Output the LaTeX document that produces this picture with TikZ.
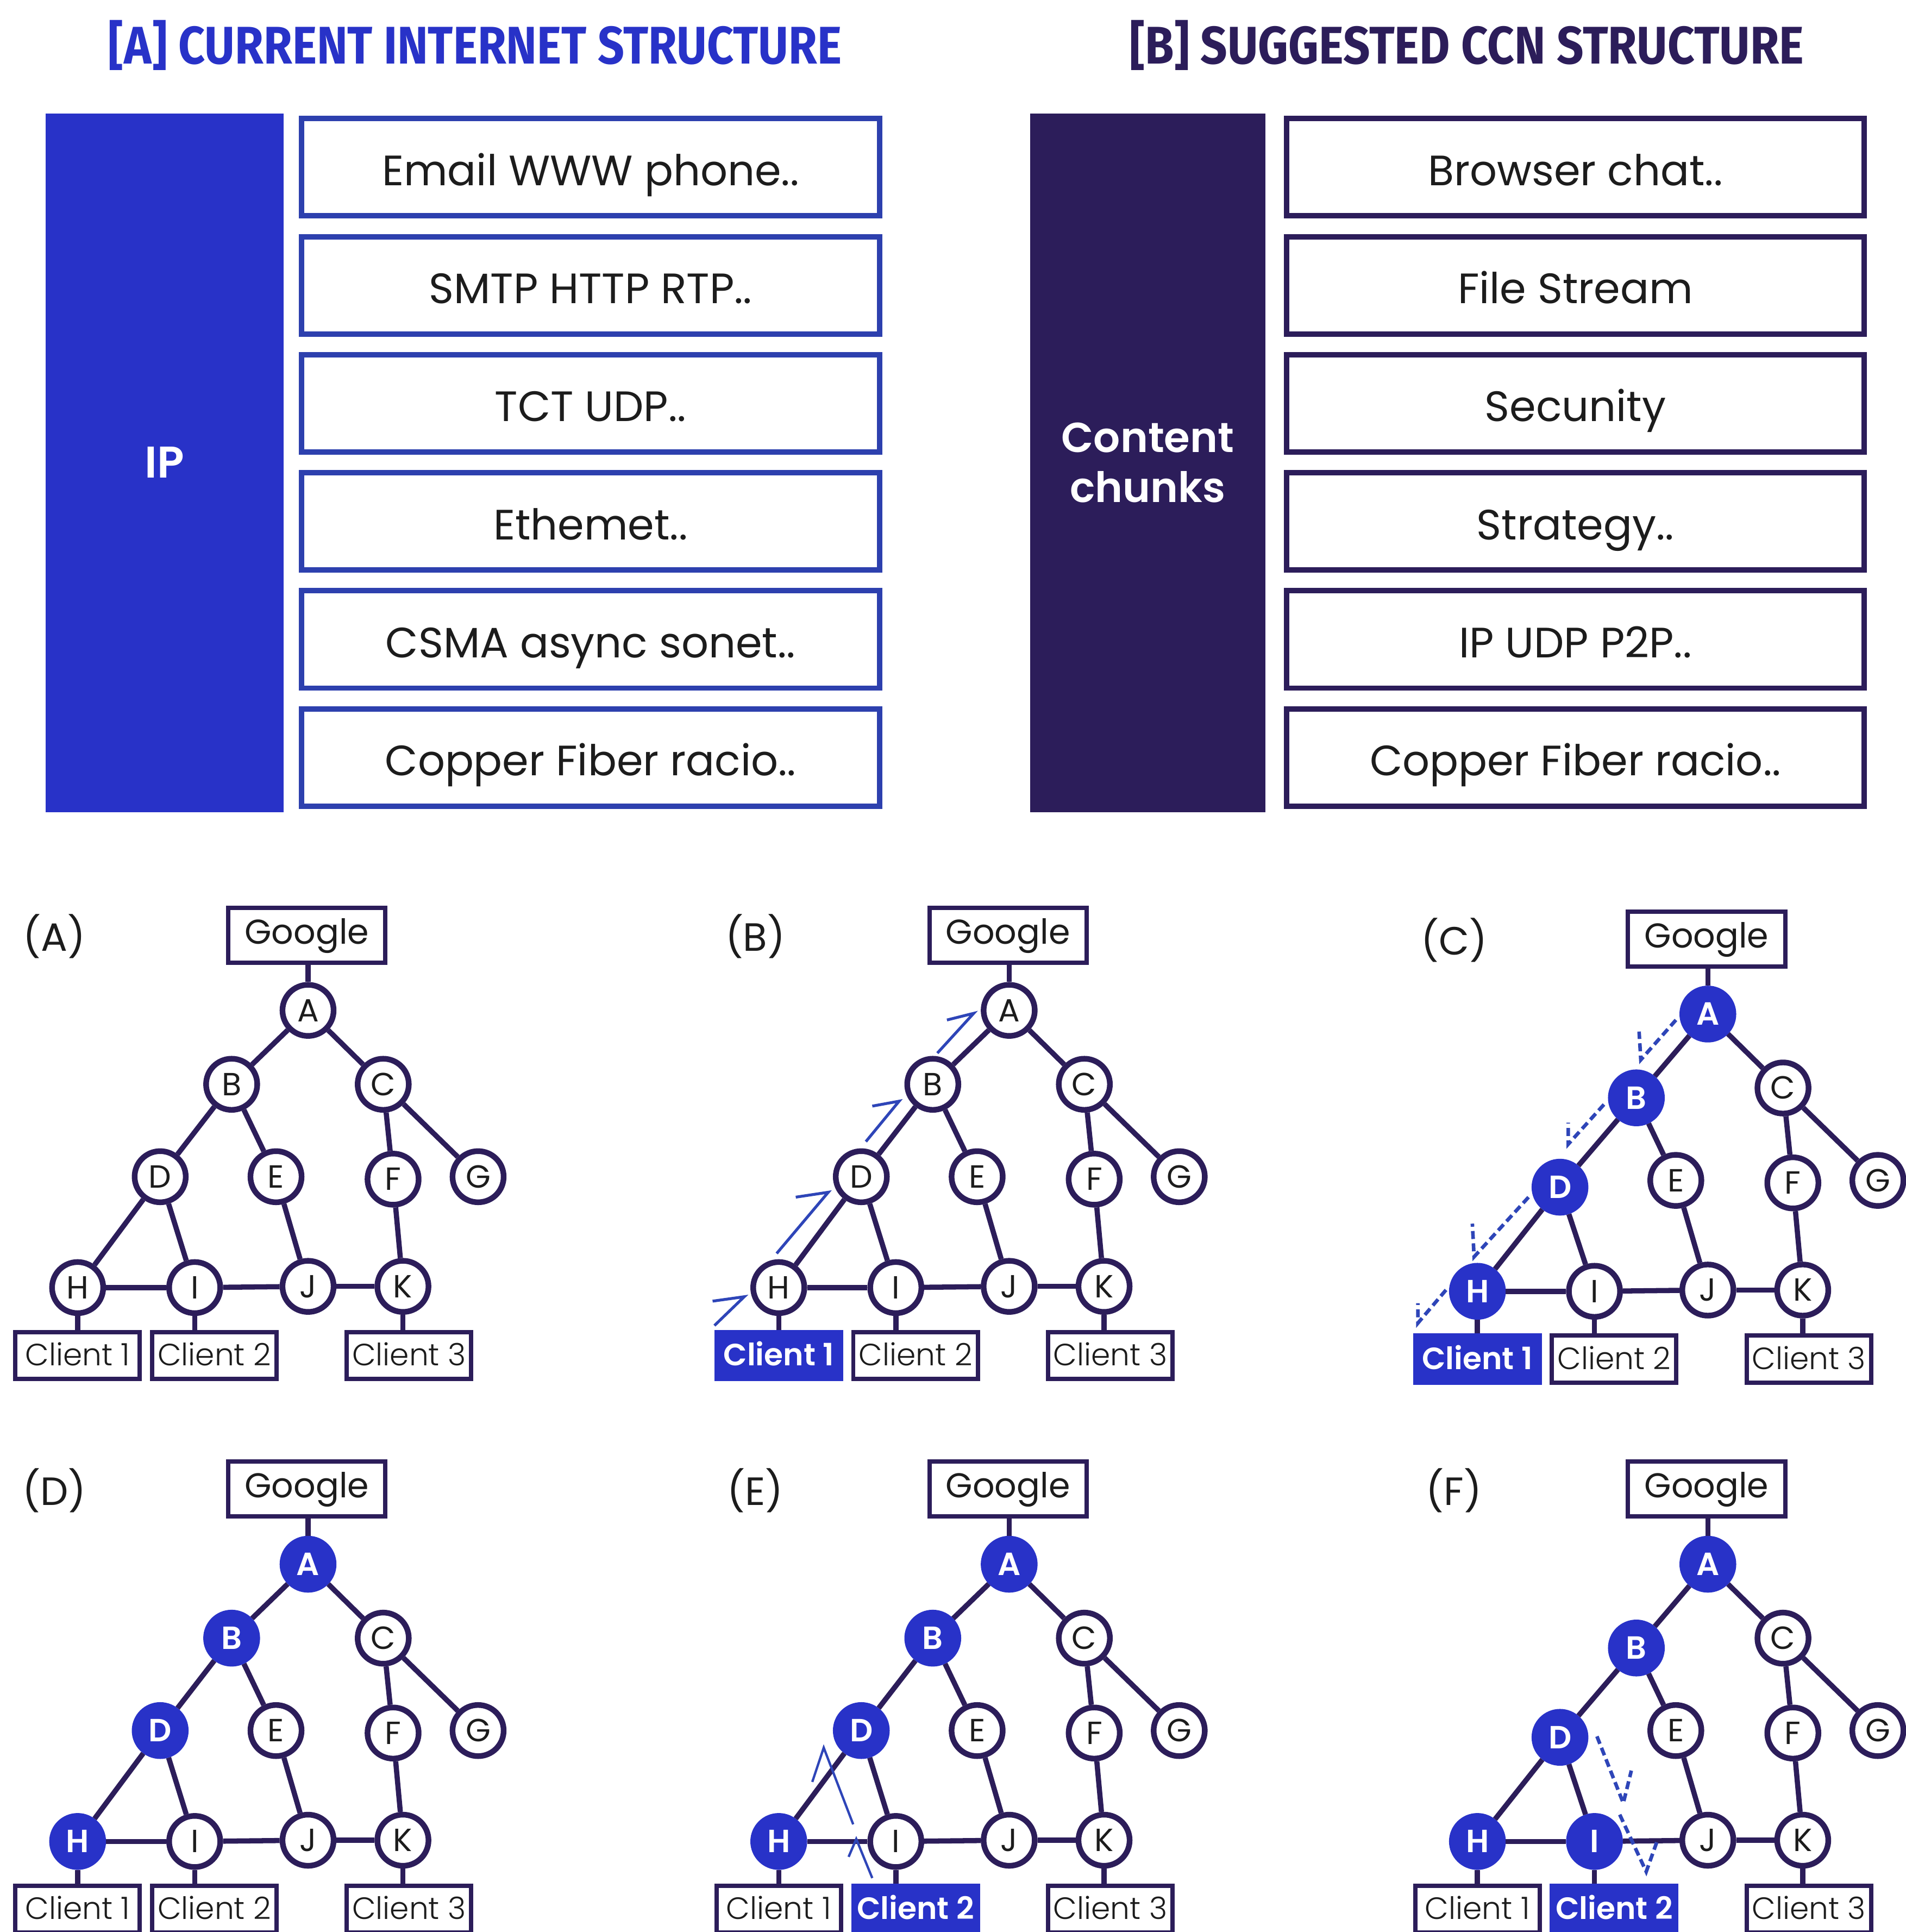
\documentclass[tikz,border=0pt]{standalone}
\usepackage{fontspec}
\usepackage{graphicx}
\setmainfont{Poppins}
\newfontfamily\lightfont{Poppins Light}
\newfontfamily\semifont{Poppins SemiBold}
\newfontfamily\headfont{Fira Sans Bold}

\definecolor{navy}{HTML}{2C1D5A}
\definecolor{royal}{HTML}{2832C8}
\definecolor{frame}{HTML}{2D40AE}
\definecolor{ink}{HTML}{1C1C1C}
\definecolor{flow}{HTML}{2E45B8}

\tikzset{
  layerA/.style={draw=frame, line width=4.4, fill=white, minimum width=469, minimum height=79,
    inner sep=0, text height=33, text depth=3.5, text=ink, font=\fontsize{34.5}{34.5}\selectfont},
  layerB/.style={layerA, draw=navy},
  pillar/.style={inner sep=0, minimum height=567, text=white, align=center},
  heading/.style={anchor=base, inner sep=0, font=\headfont\fontsize{43}{43}\selectfont},
  circ/.style={circle, draw=navy, fill=white, line width=4.6, minimum size=41.5, inner sep=0,
    text height=18, text depth=0, text=ink, font=\fontsize{26}{26}\selectfont},
  hot/.style={fill=royal, draw=royal, text=white, font=\semifont\fontsize{26}{26}\selectfont},
  gbox/.style={draw=navy, fill=white, line width=3.5, minimum width=127.5, minimum height=44.5,
    inner sep=0, text height=20, text depth=6, text=ink, font=\fontsize{28}{28}\selectfont},
  cbox/.style={draw=navy, fill=white, line width=3.5, minimum width=101, minimum height=38,
    inner sep=0, text height=17.6, text depth=1, text=ink, font=\lightfont\fontsize{25}{25}\selectfont},
  hotbox/.style={fill=royal, draw=royal, text=white, font=\semifont\fontsize{25}{25}\selectfont},
  link/.style={draw=navy, line width=4.2},
  plabel/.style={inner sep=0, text=ink, font=\fontsize{32}{32}\selectfont},
  push/.style={draw=flow, line width=2.3, line join=miter},
  pull/.style={draw=flow, line width=2.9, dash pattern=on 6.5pt off 3.5pt},
  nA/.style={}, nB/.style={}, nC/.style={}, nD/.style={}, nE/.style={}, nF/.style={},
  nG/.style={}, nH/.style={}, nI/.style={}, nJ/.style={}, nK/.style={},
  nc1/.style={}, nc2/.style={}, nc3/.style={},
}

% One routing tree: #1 name prefix, #2 panel letter, #3 offset of B, #4 offset of D
\newcommand{\treepanel}[4]{%
  \node[plabel] (#1-lab) at (44,760) {(#2)};
  \node[gbox] (#1-top) at (249,759) {Google};
  \node[circ,nA] (#1-A) at (250,820) {A};
  \node[circ,nB] (#1-B) at ([shift={#3}]188,880) {B};
  \node[circ,nC] (#1-C) at (311,880) {C};
  \node[circ,nD] (#1-D) at ([shift={#4}]130,955) {D};
  \node[circ,nE] (#1-E) at (224,955) {E};
  \node[circ,nF] (#1-F) at (319,957) {F};
  \node[circ,nG] (#1-G) at (388,955) {G};
  \node[circ,nH] (#1-H) at (63,1045) {H};
  \node[circ,nI] (#1-I) at (158,1045) {I};
  \node[circ,nJ] (#1-J) at (250,1044) {J};
  \node[circ,nK] (#1-K) at (327,1044) {K};
  \node[cbox,nc1] (#1-c1) at (63,1100) {Client 1};
  \node[cbox,nc2] (#1-c2) at (174,1100) {Client 2};
  \node[cbox,nc3] (#1-c3) at (332,1100) {Client 3};
  \draw[link] (#1-A.north) -- (#1-A.north |- #1-top.south);
  \foreach \u/\v in {A/B,A/C,B/D,B/E,C/F,C/G,D/H,D/I,E/J,F/K,H/I,I/J,J/K}
    \draw[link] (#1-\u) -- (#1-\v);
  \draw[link] (#1-H.south) -- (#1-H.south |- #1-c1.north);
  \draw[link] (#1-I.south) -- (#1-I.south |- #1-c2.north);
  \draw[link] (#1-K.south) -- (#1-K.south |- #1-c3.north);
}

\begin{document}
\begin{tikzpicture}[x=1pt, y=-1pt]
\useasboundingbox (0,0) rectangle (1546.4,1568);
\fill[white] (0,0) rectangle (1546.4,1568);

% ---------- protocol stacks ----------
\node[heading, text=royal] (headA) at (385.5,52)
  {\resizebox{595pt}{\height}{[A] CURRENT INTERNET STRUCTURE}};
\node[heading, text=navy] (headB) at (1190.5,52)
  {\resizebox{547pt}{\height}{[B] SUGGESTED CCN STRUCTURE}};

\node[pillar, fill=royal, minimum width=193, text height=25.6, text depth=0.6,
      font=\semifont\fontsize{36}{36}\selectfont] (ip) at (133.5,375.5) {IP};
\node[pillar, fill=navy, minimum width=191,
      font=\semifont\fontsize{34}{41}\selectfont] (cc) at (931.5,375.5) {Content\\chunks};

\foreach \t [count=\i from 0] in {Email WWW phone.., SMTP HTTP RTP.., TCT UDP..,
    Ethemet.., CSMA async sonet.., Copper Fiber racio..}
  \node[layerA] (la\i) at (479.3,{135.75+95.8*\i}) {\t};
\foreach \t [count=\i from 0] in {Browser chat.., File Stream, Secunity,
    Strategy.., IP UDP P2P.., Copper Fiber racio..}
  \node[layerB] (lb\i) at (1278.5,{135.75+95.8*\i}) {\t};

% ---------- routing trees ----------
\treepanel{pa}{A}{(0,0)}{(0,0)}
\begin{scope}[shift={(569,0)}, nc1/.style=hotbox]
  \treepanel{pb}{B}{(0,0)}{(0,0)}
\end{scope}
\begin{scope}[shift={(1136,3)}, nA/.style=hot, nB/.style=hot, nD/.style=hot,
              nH/.style=hot, nc1/.style=hotbox]
  \treepanel{pc}{C}{(4,8)}{(0,5.5)}
\end{scope}
\begin{scope}[shift={(0,449.5)}, nA/.style=hot, nB/.style=hot, nD/.style=hot, nH/.style=hot]
  \treepanel{pd}{D}{(0,0)}{(0,0)}
\end{scope}
\begin{scope}[shift={(569,449.5)}, nA/.style=hot, nB/.style=hot, nD/.style=hot,
              nH/.style=hot, nc2/.style=hotbox]
  \treepanel{pe}{E}{(0,0)}{(0,0)}
\end{scope}
\begin{scope}[shift={(1136,449.5)}, nA/.style=hot, nB/.style=hot, nD/.style=hot,
              nH/.style=hot, nI/.style=hot, nc2/.style=hotbox]
  \treepanel{pf}{F}{(4,8)}{(0,5.5)}
\end{scope}

% ---------- interest and data movement ----------
% (B) interest travels up from Client 1
\draw[push] (579.8,1075.8) -- (604,1052.4) -- (578.3,1056);
\draw[push] (630.3,1017.3) -- (672.2,967.6) -- (645.8,971.6);
\draw[push] (702.7,926.5) -- (729.7,893.7) -- (707.9,897.7);
\draw[push] (760.7,854.7) -- (790.2,822.4) -- (768.5,827.8);
% (C) content flows back down to Client 1
\draw[pull] (1360.1,827.8) -- (1331.6,860.1) -- (1330.2,837.2);
\draw[pull] (1301.7,896.4) -- (1272.7,928.6) -- (1272.7,911.1);
\draw[pull] (1240.5,971.6) -- (1196.3,1020) -- (1194.9,993.1);
\draw[pull] (1173.5,1046.9) -- (1150.7,1073.8) -- (1150.7,1057.7);
% (E) interest from Client 2 reaches the cached copy
\draw[push, line width=1.9] (692.4,1480.6) -- (668.5,1418.4) -- (659.2,1446.2);
\draw[push, line width=1.9] (707.9,1524.2) -- (694.9,1492.5) -- (688.7,1507);
% (F) cached content delivered to Client 2
\draw[pull] (1296,1409.2) -- (1317.4,1463.4) -- (1323.9,1437);
\draw[pull] (1314.5,1472.7) -- (1336,1519) -- (1344.5,1495.2);
\end{tikzpicture}
\end{document}
